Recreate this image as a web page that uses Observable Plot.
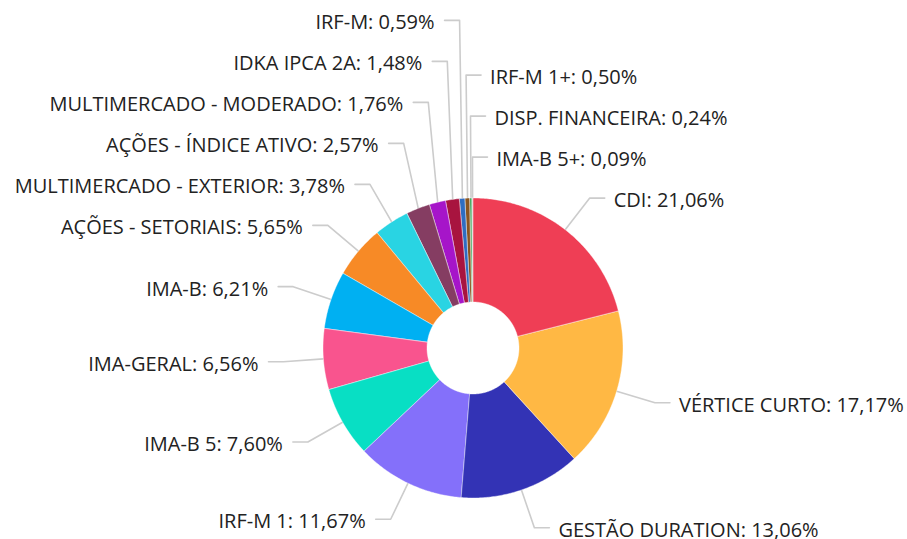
<!DOCTYPE html>
<html><head><meta charset="utf-8">
<script src="https://cdn.jsdelivr.net/npm/d3@7"></script>
<script src="https://cdn.jsdelivr.net/npm/@observablehq/plot@0.6"></script>
<style>body{margin:0;background:#fff}</style></head>
<body><div id="chart"></div>
<script>
// ---- data ----
const categories = ["CDI","VÉRTICE CURTO","GESTÃO DURATION","IRF-M 1","IMA-B 5","IMA-GERAL","IMA-B","AÇÕES - SETORIAIS","MULTIMERCADO - EXTERIOR","AÇÕES - ÍNDICE ATIVO","MULTIMERCADO - MODERADO","IDKA IPCA 2A","IRF-M","IRF-M 1+","DISP. FINANCEIRA","IMA-B 5+"];
const values = [21.06,17.17,13.06,11.67,7.60,6.56,6.21,5.65,3.78,2.57,1.76,1.48,0.59,0.50,0.24,0.09];
const colors = ["#EF3E55","#FFB844","#3333B5","#8470FA","#08DFC4","#F9548E","#00B0F2","#F78A26","#29D4E3","#853D62","#A615C9","#A8143F","#2F6DC2","#8B5520","#46A860","#D9C4C8"];

// ---- layout ----
const W = 907, H = 539, cx = 472.5, cy = 347.5, R = 150, R0 = 46, RL = 190, GAP = 41;
const total = d3.sum(values);
let acc = 0;
const slices = categories.map((name, i) => {
  const a0 = acc / total * 2 * Math.PI; acc += values[i];
  const a1 = acc / total * 2 * Math.PI;
  return {name, value: values[i], a0, a1, mid: (a0 + a1) / 2};
});
const px = (rho, a) => cx + rho * Math.sin(a);
const py = (rho, a) => cy - rho * Math.cos(a);

const slicePts = [];
for (const s of slices) {
  const n = Math.max(2, Math.ceil((s.a1 - s.a0) / 0.01));
  for (let k = 0; k <= n; k++) { const a = s.a0 + (s.a1 - s.a0) * k / n; slicePts.push({name: s.name, x: px(R, a), y: py(R, a)}); }
  for (let k = n; k >= 0; k--) { const a = s.a0 + (s.a1 - s.a0) * k / n; slicePts.push({name: s.name, x: px(R0, a), y: py(R0, a)}); }
}

const fmt = v => v.toFixed(2).replace(".", ",") + "%";
const labs = slices.map(s => ({
  name: s.name,
  label: `${s.name}: ${fmt(s.value)}`,
  side: Math.sin(s.mid) < -0.05 ? "left" : "right",
  key: s.mid > Math.PI ? s.mid - 2 * Math.PI : s.mid,
  bx: px(RL, s.mid), y: py(RL, s.mid),
  ex: px(R, s.mid), ey: py(R, s.mid)
}));
for (const side of ["left", "right"]) {
  // order each side from top to bottom
  const arr = labs.filter(d => d.side === side)
    .sort((a, b) => side === "right" ? a.key - b.key : b.key - a.key);
  for (let i = arr.length - 2; i >= 0; i--) arr[i].y = Math.min(arr[i].y, arr[i + 1].y - GAP);
}
const connPts = [];
for (const d of labs) {
  const sgn = d.side === "right" ? 1 : -1;
  d.tx = d.bx + sgn * (d.side === "right" ? 24 : 25);
  connPts.push({name: d.name, x: d.bx + sgn * 15, y: d.y});
  connPts.push({name: d.name, x: d.bx, y: d.y});
  connPts.push({name: d.name, x: d.ex, y: d.ey});
}

const chart = Plot.plot({
  width: W, height: H, margin: 0,
  x: {domain: [0, W], range: [0, W], axis: null},
  y: {domain: [0, H], range: [0, H], axis: null},
  color: {domain: categories, range: colors},
  style: {fontFamily: "'Open Sans', sans-serif", background: "#fff"},
  marks: [
    Plot.line(connPts, {x: "x", y: "y", z: "name", stroke: "#cccccc", strokeWidth: 1.6}),
    Plot.line(slicePts, {x: "x", y: "y", z: "name", fill: "name", stroke: "#ffffff", strokeWidth: 0.5, strokeOpacity: 0.8, curve: "linear-closed"}),
    Plot.text(labs.filter(d => d.side === "left"), {x: "tx", y: "y", text: "label", textAnchor: "end", fontSize: 20, fill: "#222", dy: 2.5}),
    Plot.text(labs.filter(d => d.side === "right"), {x: "tx", y: "y", text: "label", textAnchor: "start", fontSize: 20, fill: "#222", dy: 2.5})
  ]
});
document.getElementById("chart").appendChild(chart);
</script></body></html>
